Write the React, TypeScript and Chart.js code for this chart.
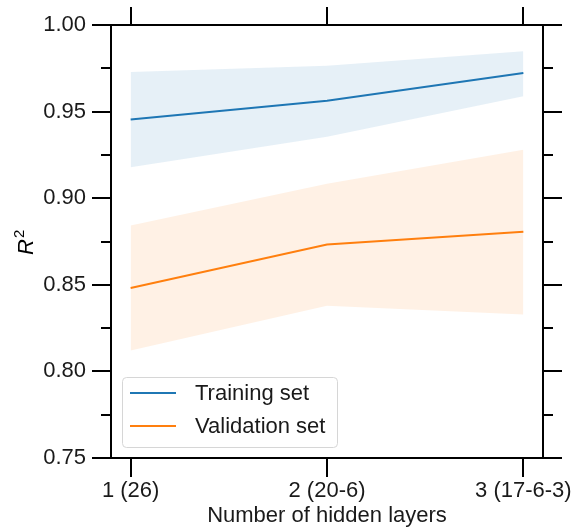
import React, { useEffect, useRef } from 'react';
import { Chart, registerables } from 'chart.js';

Chart.register(...registerables);

const xValues = [1, 2, 3];
const xLabels = ['1 (26)', '2 (20-6)', '3 (17-6-3)'];
const trainMean = [0.9455, 0.9563, 0.9723];
const trainUpper = [0.9729, 0.9765, 0.9848];
const trainLower = [0.9178, 0.9355, 0.9588];
const valMean = [0.8482, 0.8732, 0.8807];
const valUpper = [0.8843, 0.9084, 0.928];
const valLower = [0.8121, 0.8379, 0.8328];
const yMajorTicks = [0.75, 0.8, 0.85, 0.9, 0.95, 1.0];
const yMinorTicks = [0.775, 0.825, 0.875, 0.925, 0.975];
const seriesNames = ['Training set', 'Validation set'];
const xTitle = 'Number of hidden layers';

const FONT = "'Liberation Sans', Arial, sans-serif";
const BLUE = '#1f77b4';
const ORANGE = '#ff7f0e';
const BLUE_FILL = 'rgba(31,119,180,0.11)';
const ORANGE_FILL = 'rgba(255,127,14,0.11)';

const pts = (ys: number[]) => xValues.map((x, i) => ({ x, y: ys[i] }));

const framePlugin = {
  id: 'frame',
  afterDraw(chart: any) {
    const { ctx, chartArea: a, scales } = chart;
    const x = scales.x;
    const y = scales.y;
    ctx.save();
    ctx.strokeStyle = '#000';
    ctx.lineWidth = 2;
    ctx.lineCap = 'butt';
    ctx.strokeRect(a.left, a.top, a.right - a.left, a.bottom - a.top);
    const drawY = (v: number, len: number) => {
      const py = Math.round(y.getPixelForValue(v));
      ctx.beginPath();
      ctx.moveTo(a.left - len, py);
      ctx.lineTo(a.left, py);
      ctx.moveTo(a.right, py);
      ctx.lineTo(a.right + len, py);
      ctx.stroke();
    };
    yMajorTicks.forEach((v) => drawY(v, 19));
    yMinorTicks.forEach((v) => drawY(v, 10));
    xValues.forEach((v) => {
      const px = Math.round(x.getPixelForValue(v));
      ctx.beginPath();
      ctx.moveTo(px, a.top - 18);
      ctx.lineTo(px, a.top);
      ctx.moveTo(px, a.bottom);
      ctx.lineTo(px, a.bottom + 19);
      ctx.stroke();
    });

    // y-axis title: italic R with superscript 2
    ctx.save();
    ctx.translate(33, 255);
    ctx.rotate(-Math.PI / 2);
    ctx.fillStyle = '#000';
    ctx.textBaseline = 'alphabetic';
    ctx.textAlign = 'left';
    ctx.font = `italic 22px ${FONT}`;
    ctx.fillText('R', 0, 0);
    const w = ctx.measureText('R').width;
    ctx.font = `15px ${FONT}`;
    ctx.fillText('2', w + 1, -9);
    ctx.restore();

    // legend
    const lx = 122, ly = 377, lw = 215, lh = 70;
    ctx.beginPath();
    if (ctx.roundRect) ctx.roundRect(lx + 0.5, ly + 0.5, lw, lh, 4);
    else ctx.rect(lx + 0.5, ly + 0.5, lw, lh);
    ctx.fillStyle = 'rgba(255,255,255,0.8)';
    ctx.fill();
    ctx.strokeStyle = '#d6d6d6';
    ctx.lineWidth = 1;
    ctx.stroke();
    const colors = [BLUE, ORANGE];
    const rows = [393, 426];
    seriesNames.forEach((name, i) => {
      ctx.strokeStyle = colors[i];
      ctx.lineWidth = 2;
      ctx.beginPath();
      ctx.moveTo(130, rows[i]);
      ctx.lineTo(176, rows[i]);
      ctx.stroke();
      ctx.fillStyle = '#1a1a1a';
      ctx.font = `22px ${FONT}`;
      ctx.textBaseline = 'middle';
      ctx.textAlign = 'left';
      ctx.fillText(name, 195, rows[i] + 1);
    });
    ctx.restore();
  },
};

export default function App() {
  const ref = useRef<HTMLCanvasElement | null>(null);
  useEffect(() => {
    if (!ref.current) return;
    const chart = new Chart(ref.current, {
      type: 'line',
      data: {
        datasets: [
          { label: 'tu', data: pts(trainUpper), borderWidth: 0, pointRadius: 0, fill: '+1', backgroundColor: BLUE_FILL, borderColor: 'transparent' },
          { label: 'tl', data: pts(trainLower), borderWidth: 0, pointRadius: 0, fill: false, borderColor: 'transparent' },
          { label: 'vu', data: pts(valUpper), borderWidth: 0, pointRadius: 0, fill: '+1', backgroundColor: ORANGE_FILL, borderColor: 'transparent' },
          { label: 'vl', data: pts(valLower), borderWidth: 0, pointRadius: 0, fill: false, borderColor: 'transparent' },
          { label: seriesNames[0], data: pts(trainMean), borderWidth: 2, pointRadius: 0, fill: false, borderColor: BLUE },
          { label: seriesNames[1], data: pts(valMean), borderWidth: 2, pointRadius: 0, fill: false, borderColor: ORANGE },
        ],
      },
      options: {
        responsive: false,
        animation: false,
        devicePixelRatio: 1,
        layout: { padding: { top: 25, right: 31, left: 0, bottom: 0 } },
        plugins: { legend: { display: false }, tooltip: { enabled: false } },
        scales: {
          x: {
            type: 'linear',
            min: 0.9,
            max: 3.1,
            grid: { display: false, drawTicks: false },
            border: { display: false },
            afterBuildTicks: (s: any) => {
              s.ticks = xValues.map((v) => ({ value: v }));
            },
            afterFit: (s: any) => {
              s.height = 71;
              s.paddingLeft = 0;
              s.paddingRight = 0;
            },
            ticks: {
              color: '#1a1a1a',
              font: { family: FONT, size: 22 },
              padding: 20,
              maxRotation: 0,
              autoSkip: false,
              callback: (v: any) => {
                const i = xValues.indexOf(Number(v));
                return i >= 0 ? xLabels[i] : '';
              },
            },
            title: {
              display: true,
              text: xTitle,
              color: '#1a1a1a',
              font: { family: FONT, size: 22 },
              padding: { top: 0, bottom: 0 },
            },
          },
          y: {
            type: 'linear',
            min: 0.75,
            max: 1.0,
            grid: { display: false, drawTicks: false },
            border: { display: false },
            afterBuildTicks: (s: any) => {
              s.ticks = yMajorTicks.map((v) => ({ value: v }));
            },
            afterFit: (s: any) => {
              s.width = 111;
              s.paddingTop = 0;
              s.paddingBottom = 0;
            },
            ticks: {
              color: '#1a1a1a',
              font: { family: FONT, size: 22 },
              padding: 25,
              callback: (v: any) => Number(v).toFixed(2),
            },
          },
        },
      },
      plugins: [framePlugin],
    } as any);
    return () => chart.destroy();
  }, []);
  return (
    <div style={{ position: 'absolute', left: 0, top: 0, width: 574, height: 529, background: '#fff' }}>
      <canvas ref={ref} width={574} height={529} />
    </div>
  );
}
